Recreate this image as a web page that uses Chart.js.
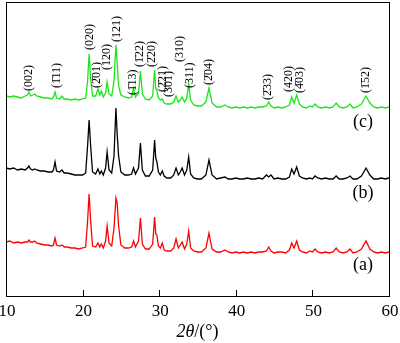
<!DOCTYPE html>
<html>
<head>
<meta charset="utf-8">
<script src="https://cdn.jsdelivr.net/npm/chart.js@4"></script>
<style>
  body { margin: 0; background: #fff; }
</style>
</head>
<body>
<canvas id="xrd" width="400" height="343"></canvas>
<script>
// 2theta grid shared by the three patterns
const twoTheta = [
    10.0, 10.5, 11.0, 11.5, 12.0, 12.5, 12.8, 13.0, 13.2, 13.5,
    13.75, 14.0, 14.5, 15.0, 15.5, 16.0, 16.2, 16.4, 16.6, 17.0,
    17.3, 17.6, 18.0, 18.5, 19.0, 19.5, 20.0, 20.4, 20.65, 20.85,
    21.05, 21.3, 21.7, 22.0, 22.25, 22.45, 22.7, 23.0, 23.2, 23.45,
    23.8, 24.1, 24.35, 24.5, 24.7, 25.0, 25.5, 26.0, 26.4, 26.65,
    26.9, 27.3, 27.55, 27.8, 28.2, 28.7, 29.15, 29.4, 29.55, 29.7,
    29.9, 30.15, 30.4, 30.65, 31.0, 31.5, 31.9, 32.2, 32.5, 32.75,
    33.0, 33.3, 33.6, 33.85, 34.1, 34.5, 35.0, 35.5, 36.1, 36.5,
    36.9, 37.5, 38.0, 38.6, 39.0, 39.5, 40.0, 40.5, 41.0, 41.5,
    42.0, 42.5, 43.0, 43.5, 44.0, 44.3, 44.6, 45.0, 45.5, 46.0,
    46.5, 47.0, 47.3, 47.6, 47.95, 48.3, 48.7, 49.2, 49.7, 50.0,
    50.35, 50.7, 51.2, 51.7, 52.2, 52.7, 53.1, 53.5, 54.0, 54.5,
    54.9, 55.3, 55.8, 56.4, 57.0, 57.5, 58.0, 58.5, 59.0, 59.5,
    60.0
];

// intensities (arbitrary units, already offset for stacking)
const patternC = [
    200, 199, 200, 199, 198, 200, 201, 204, 200, 201,
    202, 200, 199, 198, 198, 197, 199, 204, 198, 197,
    200, 197, 197, 196, 197, 196, 197, 198, 215, 242,
    218, 200, 200, 207, 201, 205, 199, 203, 214, 202,
    200, 215, 251, 235, 210, 201, 199, 198, 199, 208,
    199, 203, 225, 202, 197, 196, 200, 226, 208, 205,
    198, 196, 197, 193, 192, 192, 194, 200, 194, 196,
    199, 194, 198, 212, 196, 191, 190, 190, 194, 208,
    193, 189, 189, 191, 189, 188, 189, 188, 189, 188,
    189, 188, 189, 189, 190, 194, 190, 188, 189, 188,
    189, 191, 199, 193, 201, 192, 189, 188, 190, 189,
    192, 189, 188, 189, 188, 189, 193, 189, 188, 189,
    192, 188, 189, 192, 200, 193, 189, 188, 189, 188,
    189
];
const patternB = [
    128, 127, 128, 126, 127, 126, 128, 130, 127, 126,
    127, 126, 125, 125, 124, 124, 126, 134, 125, 124,
    126, 123, 123, 122, 121, 121, 121, 123, 150, 176,
    150, 124, 122, 127, 122, 125, 121, 128, 144, 126,
    123, 140, 188, 164, 140, 124, 121, 121, 122, 128,
    122, 128, 153, 126, 120, 120, 126, 156, 138, 134,
    124, 121, 125, 120, 118, 118, 121, 128, 121, 124,
    128, 121, 126, 139, 122, 118, 117, 117, 121, 136,
    121, 117, 118, 119, 117, 117, 118, 117, 117, 118,
    117, 117, 118, 117, 121, 119, 121, 117, 118, 117,
    117, 119, 127, 122, 129, 120, 118, 117, 118, 117,
    120, 118, 117, 118, 117, 117, 120, 117, 117, 118,
    120, 117, 117, 120, 128, 121, 117, 117, 118, 117,
    118
];
const patternA = [
    54, 55, 53, 54, 53, 54, 54, 56, 54, 54,
    55, 53, 52, 51, 51, 50, 51, 58, 51, 50,
    51, 49, 49, 48, 48, 47, 48, 49, 75, 102,
    75, 50, 49, 53, 49, 52, 48, 55, 70, 53,
    50, 68, 98, 94, 70, 51, 48, 48, 49, 55,
    49, 55, 78, 52, 47, 47, 52, 79, 62, 61,
    50, 48, 53, 46, 45, 45, 48, 57, 48, 51,
    54, 47, 52, 65, 48, 45, 44, 44, 48, 63,
    47, 44, 44, 46, 44, 43, 44, 43, 44, 43,
    44, 43, 44, 44, 45, 49, 45, 43, 44, 44,
    43, 46, 53, 48, 55, 46, 44, 43, 45, 44,
    47, 44, 43, 44, 43, 44, 48, 44, 43, 44,
    47, 43, 44, 47, 55, 47, 44, 43, 44, 43,
    44
];

const xTicks = [10, 20, 30, 40, 50, 60];

// reflection labels over pattern (c)
const hklNames = ['(002)', '(1\u030411)', '(020)', '(2\u030401)', '(120)', '(121)', '(1\u030413)',
    '(1\u030422)', '(2\u030420)', '(2\u030421)', '(301)', '(310)', '(311)', '(2\u030404)',
    '(2\u030433)', '(420)', '(4\u030403)', '(1\u030452)'];
const hklPos = [13.0, 16.6, 20.9, 21.9, 23.2, 24.5, 26.5, 27.5, 29.1, 30.5, 31.3, 32.75, 34.0, 36.5,
    44.2, 46.9, 48.4, 57.0];
const hklHeight = [205, 208, 246, 208, 226, 254, 201, 229, 229, 204, 199, 234, 208, 211,
    196, 204, 203, 203];

const curveNames = ['(a)', '(b)', '(c)'];
const curveLabelY = [31, 103, 174];

const serif = '"Liberation Serif", "Times New Roman", serif';

const decor = {
    id: 'decor',
    afterDraw(chart) {
        const ctx = chart.ctx;
        const a = chart.chartArea;
        const x = chart.scales.x, y = chart.scales.y;
        ctx.save();
        ctx.strokeStyle = '#000';
        ctx.lineWidth = 1;
        ctx.strokeRect(Math.round(a.left) + 0.5, Math.round(a.top) + 0.5, Math.round(a.width), Math.round(a.height));

        // ticks pointing inward
        ctx.beginPath();
        xTicks.slice(1, -1).forEach(v => {
            const px = Math.round(x.getPixelForValue(v)) + 0.5;
            ctx.moveTo(px, a.bottom);
            ctx.lineTo(px, a.bottom - 6);
        });
        ctx.stroke();

        ctx.fillStyle = '#000';
        ctx.font = '17px ' + serif;
        ctx.textAlign = 'center';
        ctx.textBaseline = 'middle';
        xTicks.forEach(v => ctx.fillText(String(v), x.getPixelForValue(v) + 1, 312));

        ctx.font = '12px ' + serif;
        ctx.textAlign = 'left';
        hklNames.forEach((t, i) => {
            ctx.save();
            ctx.translate(x.getPixelForValue(hklPos[i]), y.getPixelForValue(hklHeight[i]));
            ctx.rotate(-Math.PI / 2);
            ctx.fillText(t, 0, 0);
            ctx.restore();
        });

        ctx.font = '18px ' + serif;
        ctx.textAlign = 'center';
        curveNames.forEach((t, i) => {
            ctx.fillText(t, x.getPixelForValue(56.6), y.getPixelForValue(curveLabelY[i]));
        });

        // axis title 2θ/(°)
        ctx.textAlign = 'left';
        const p1 = '2\u03b8', p2 = '/(\u00b0)';
        ctx.font = 'italic 18px ' + serif;
        const w1 = ctx.measureText(p1).width;
        ctx.font = '18px ' + serif;
        const w2 = ctx.measureText(p2).width;
        const x0 = (a.left + a.right) / 2 - (w1 + w2) / 2;
        ctx.font = 'italic 18px ' + serif;
        ctx.fillText(p1, x0, 332);
        ctx.font = '18px ' + serif;
        ctx.fillText(p2, x0 + w1, 332);
        ctx.restore();
    }
};

const toPoints = arr => twoTheta.map((t, i) => ({ x: t, y: arr[i] }));

new Chart(document.getElementById('xrd'), {
    type: 'line',
    data: {
        datasets: [
            { label: '(a)', data: toPoints(patternA), borderColor: '#ff0000' },
            { label: '(b)', data: toPoints(patternB), borderColor: '#000000' },
            { label: '(c)', data: toPoints(patternC), borderColor: '#19e619' }
        ]
    },
    options: {
        responsive: false,
        animation: false,
        elements: {
            line: { borderWidth: 1.3, tension: 0 },
            point: { radius: 0 }
        },
        layout: { padding: { top: 2, right: 11, left: 6, bottom: 47 } },
        plugins: {
            legend: { display: false },
            tooltip: { enabled: false }
        },
        scales: {
            x: {
                type: 'linear',
                display: false,
                min: 10,
                max: 60
            },
            y: {
                display: false,
                min: 0,
                max: 294
            }
        }
    },
    plugins: [decor]
});
</script>
</body>
</html>
